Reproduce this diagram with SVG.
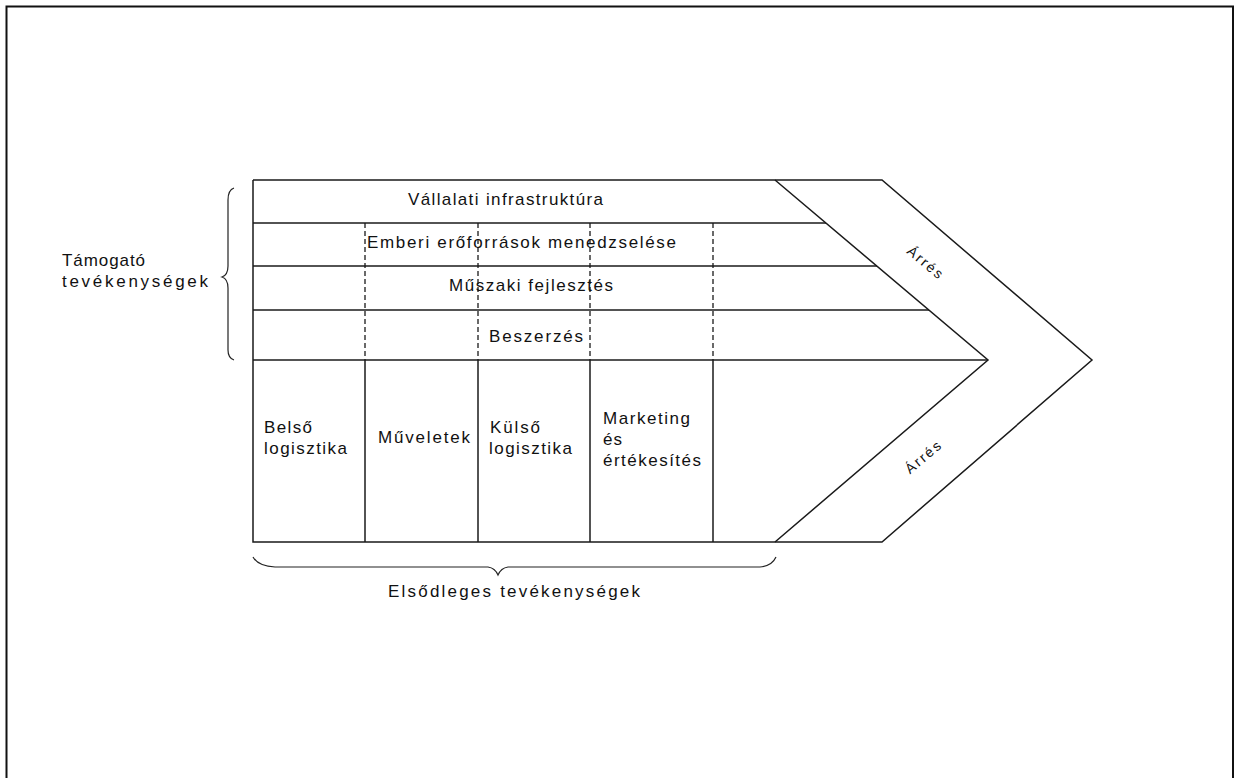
<svg xmlns="http://www.w3.org/2000/svg" width="1238" height="778" viewBox="0 0 1238 778">
  <style>
    .ln { stroke: #1a1a1a; stroke-width: 1.5; fill: none; }
    .dash { stroke: #1a1a1a; stroke-width: 1.3; fill: none; stroke-dasharray: 5 3; }
    .brace { stroke: #222; stroke-width: 1.2; fill: none; }
    .t { font-family: "Liberation Sans", Arial, sans-serif; font-size: 17px; fill: #111; }
    .s { font-size: 14px; }
    .c { text-anchor: middle; }
  </style>
  <rect width="1238" height="778" fill="#fff"/>
  <!-- page frame -->
  <rect x="6.5" y="6.5" width="1226.5" height="800" fill="none" stroke="#111" stroke-width="2"/>

  <g id="connectors">
    <!-- outer chevron -->
    <polyline class="ln" points="253,180 882,180 1092,360 882,542 253,542 253,180"/>
    <!-- inner margin edge -->
    <polyline class="ln" points="775,180 988,360 775,542"/>
    <!-- support rows -->
    <line class="ln" x1="253" y1="223" x2="826" y2="223"/>
    <line class="ln" x1="253" y1="266" x2="877" y2="266"/>
    <line class="ln" x1="253" y1="310" x2="929" y2="310"/>
    <line class="ln" x1="253" y1="360" x2="988" y2="360"/>
    <!-- primary cell dividers -->
    <line class="ln" x1="365" y1="360" x2="365" y2="542"/>
    <line class="ln" x1="478" y1="360" x2="478" y2="542"/>
    <line class="ln" x1="590" y1="360" x2="590" y2="542"/>
    <line class="ln" x1="713" y1="360" x2="713" y2="542"/>
    <!-- dashed links between support and primary activities -->
    <line class="dash" x1="365" y1="223" x2="365" y2="360"/>
    <line class="dash" x1="478" y1="223" x2="478" y2="360"/>
    <line class="dash" x1="590" y1="223" x2="590" y2="360"/>
    <line class="dash" x1="713" y1="223" x2="713" y2="360"/>
  </g>

  <!-- support activities -->
  <g id="infrastruktura">
    <text class="t" x="408" y="205" textLength="195" lengthAdjust="spacing">Vállalati infrastruktúra</text>
  </g>
  <g id="emberi-eroforrasok">
    <text class="t" x="367" y="248" textLength="309" lengthAdjust="spacing">Emberi erőforrások menedzselése</text>
  </g>
  <g id="muszaki-fejlesztes">
    <text class="t" x="449" y="291" textLength="164" lengthAdjust="spacing">Műszaki fejlesztés</text>
  </g>
  <g id="beszerzes">
    <text class="t" x="489" y="342" textLength="94" lengthAdjust="spacing">Beszerzés</text>
  </g>

  <!-- primary activities -->
  <g id="belso-logisztika">
    <text class="t" x="264" y="433" textLength="48" lengthAdjust="spacing">Belső</text>
    <text class="t" x="264" y="454" textLength="83" lengthAdjust="spacing">logisztika</text>
  </g>
  <g id="muveletek">
    <text class="t" x="378" y="443" textLength="92" lengthAdjust="spacing">Műveletek</text>
  </g>
  <g id="kulso-logisztika">
    <text class="t" x="490" y="433" textLength="50" lengthAdjust="spacing">Külső</text>
    <text class="t" x="489" y="454" textLength="83" lengthAdjust="spacing">logisztika</text>
  </g>
  <g id="marketing">
    <text class="t" x="603" y="424" textLength="87" lengthAdjust="spacing">Marketing</text>
    <text class="t" x="603" y="445" textLength="19" lengthAdjust="spacing">és</text>
    <text class="t" x="603" y="466" textLength="98" lengthAdjust="spacing">értékesítés</text>
  </g>

  <!-- margin -->
  <g id="arres-felso">
    <text class="t s c" transform="translate(922,266) rotate(40)" textLength="42" lengthAdjust="spacing">Árrés</text>
  </g>
  <g id="arres-also">
    <text class="t s c" transform="translate(926,461) rotate(-40)" textLength="42" lengthAdjust="spacing">Árrés</text>
  </g>

  <!-- group labels with braces -->
  <g id="tamogato">
    <path class="brace" d="M234,188 Q228,190 228,200 L228,266 Q228,275 222,277 Q228,279 228,288 L228,350 Q228,358 234,360"/>
    <text class="t" x="62" y="266" textLength="83" lengthAdjust="spacing">Támogató</text>
    <text class="t" x="62" y="287" textLength="146" lengthAdjust="spacing">tevékenységek</text>
  </g>
  <g id="elsodleges">
    <path class="brace" d="M253,557 Q258,566 275,567 L488,567 Q495,568 498,575 Q501,568 508,567 L760,567 Q772,566 776,557"/>
    <text class="t" x="388" y="597" textLength="252" lengthAdjust="spacing">Elsődleges tevékenységek</text>
  </g>
</svg>
